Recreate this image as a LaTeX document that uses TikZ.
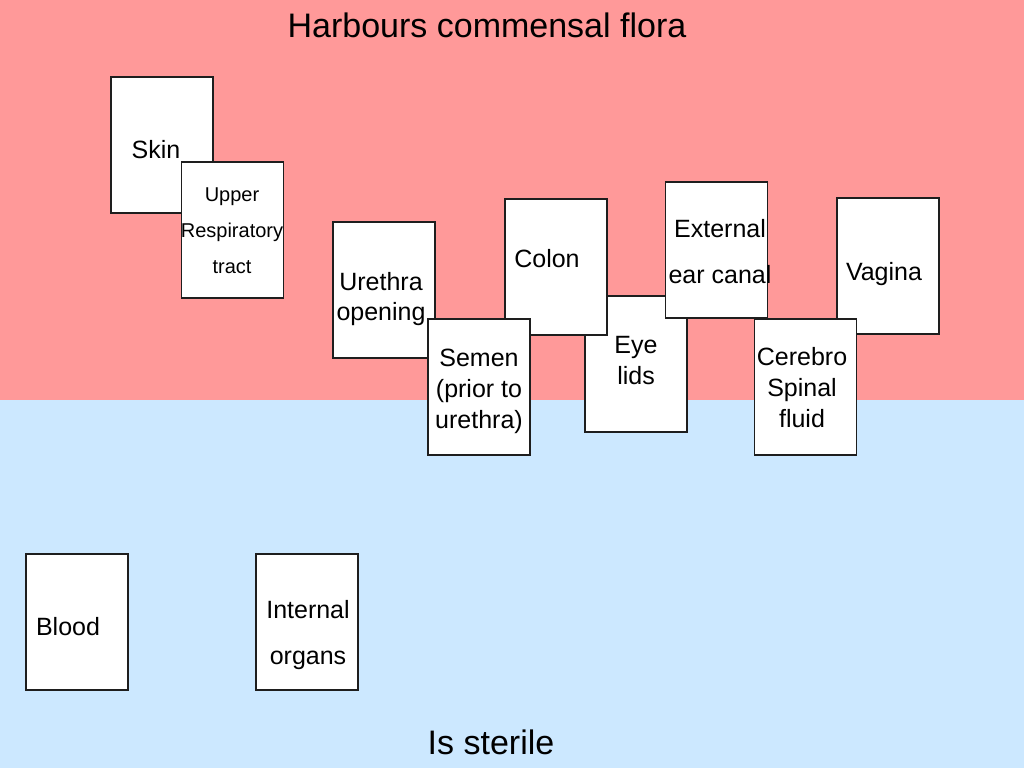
\documentclass[tikz,border=0pt]{standalone}
\usepackage{fontspec}
\setmainfont{Liberation Sans}
\definecolor{pinkbg}{RGB}{255,153,153}
\definecolor{bluebg}{RGB}{204,232,255}
\definecolor{edge}{RGB}{30,30,30}
\tikzset{
  card/.style={draw=edge, line width=1.1pt, fill=white, minimum width=102pt, minimum height=136pt, inner sep=0pt},
  txt/.style={inner sep=0pt, align=center, font=\fontsize{25}{30}\selectfont},
  bigtxt/.style={inner sep=0pt, font=\fontsize{34}{40}\selectfont}
}
\begin{document}
\begin{tikzpicture}[x=1pt,y=-1pt]
\useasboundingbox (0,0) rectangle (1024,768);
\fill[pinkbg] (0,0) rectangle (1024,400);
\fill[bluebg] (0,400) rectangle (1024,768);

\node[bigtxt] (title) at (487,25) {Harbours commensal flora};
\node[bigtxt] (sterile) at (491,742) {Is sterile};

\node[card] (skin) at (162,145) {};
\node[txt] (skint) at (156,150) {Skin};
\node[card] (upper) at (232.5,230) {};
\node[txt, font=\fontsize{20}{36}\selectfont] (uppert) at (232,231) {Upper\\Respiratory\\tract};

\node[card] (urethra) at (384,290) {};
\node[txt] (urethrat) at (381,299) {Urethra\\opening};

\node[card] (eye) at (636,364) {};
\node[txt, font=\fontsize{25}{31}\selectfont] (eyet) at (636,361) {Eye\\lids};
\node[card] (colon) at (556,267) {};
\node[txt] (colont) at (547,259) {Colon};
\node[card] (semen) at (479,387) {};
\node[txt, font=\fontsize{25}{31}\selectfont] (sement) at (479,391) {Semen\\(prior to\\urethra)};
\node[card] (ear) at (716.5,250) {};
\node[txt, font=\fontsize{25}{46}\selectfont] (eart) at (720,252) {External\\ear canal};

\node[card] (vagina) at (888,266) {};
\node[txt] (vaginat) at (884,274) {Vagina};
\node[card] (csf) at (805.5,387) {};
\node[txt, font=\fontsize{25}{31}\selectfont] (csft) at (802,388) {Cerebro\\Spinal\\fluid};

\node[card] (blood) at (77,622) {};
\node[txt] (bloodt) at (68,627) {Blood};
\node[card] (organs) at (307,622) {};
\node[txt, font=\fontsize{25}{46}\selectfont] (organst) at (308,635) {Internal\\organs};
\end{tikzpicture}
\end{document}
